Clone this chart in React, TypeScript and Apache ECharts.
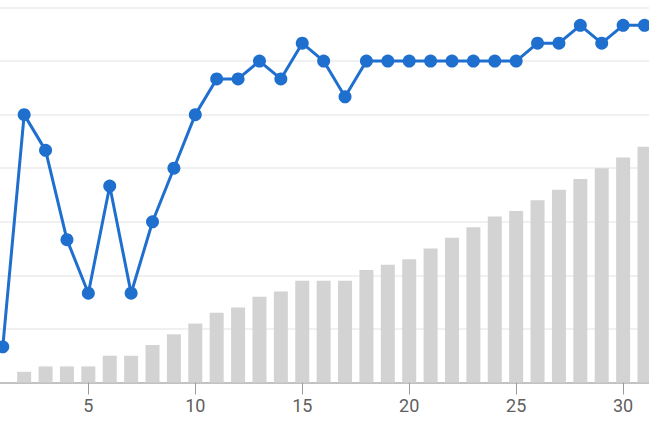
import React, { useEffect, useRef } from "react";
import * as echarts from "echarts";

const days = [1, 2, 3, 4, 5, 6, 7, 8, 9, 10, 11, 12, 13, 14, 15, 16, 17, 18, 19, 20, 21, 22, 23, 24, 25, 26, 27, 28, 29, 30, 31];
const lineValues = [2, 15, 13, 8, 5, 11, 5, 9, 12, 15, 17, 17, 18, 17, 19, 18, 16, 18, 18, 18, 18, 18, 18, 18, 18, 19, 19, 20, 19, 20, 20];
const barValues = [0, 2, 3, 3, 3, 5, 5, 7, 9, 11, 13, 14, 16, 17, 19, 19, 19, 21, 22, 23, 25, 27, 29, 31, 32, 34, 36, 38, 40, 42, 44];
const xTicks = [5, 10, 15, 20, 25, 30];

export default function App() {
  const ref = useRef<HTMLDivElement>(null);
  useEffect(() => {
    if (!ref.current) return;
    const chart = echarts.init(ref.current, undefined, { renderer: "svg" });
    chart.setOption({
      animation: false,
      grid: { left: 0, right: 0, top: 7.5, bottom: 41.5, containLabel: false },
      xAxis: {
        type: "value",
        min: 0.87,
        max: 31.21,
        splitLine: { show: false },
        axisLine: { show: true, lineStyle: { color: "#c2c2c2", width: 2 } },
        axisTick: {
          show: true,
          customValues: xTicks,
          length: 12,
          lineStyle: { color: "#9a9a9a", width: 1 },
        },
        axisLabel: {
          show: true,
          customValues: xTicks,
          fontSize: 18,
          fontFamily: "Roboto",
          color: "#5f5f5f",
          margin: 14,
        },
      },
      yAxis: [
        {
          type: "value",
          min: 0,
          max: 21,
          interval: 3,
          axisLine: { show: false },
          axisTick: { show: false },
          axisLabel: { show: false },
          splitLine: { show: true, lineStyle: { color: "#ebebeb", width: 1.5 } },
        },
        {
          type: "value",
          min: 0,
          max: 70,
          interval: 10,
          axisLine: { show: false },
          axisTick: { show: false },
          axisLabel: { show: false },
          splitLine: { show: false },
        },
      ],
      series: [
        {
          type: "bar",
          yAxisIndex: 1,
          barWidth: 14,
          itemStyle: { color: "#d3d3d3" },
          data: days.map((d, i) => [d, barValues[i]]),
          z: 1,
        },
        {
          type: "line",
          yAxisIndex: 0,
          symbol: "circle",
          symbolSize: 13,
          lineStyle: { color: "#1f6fcf", width: 3 },
          itemStyle: { color: "#1f6fcf" },
          data: days.map((d, i) => [d, lineValues[i]]),
          z: 3,
        },
      ],
    });
    return () => chart.dispose();
  }, []);
  return (
    <div
      ref={ref}
      style={{ position: "absolute", left: 0, top: 0, width: 649, height: 424, background: "#fff" }}
    />
  );
}
